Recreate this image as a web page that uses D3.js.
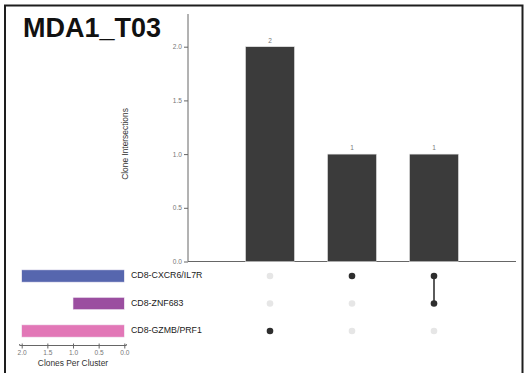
<!DOCTYPE html>
<html>
<head>
<meta charset="utf-8">
<script src="https://cdn.jsdelivr.net/npm/d3@7"></script>
<style>
  html, body { margin: 0; padding: 0; background: #fff; }
  svg { display: block; }
  text { font-family: "Liberation Sans", Arial, Helvetica, sans-serif; }
</style>
</head>
<body>
<svg id="chart" width="527" height="373"></svg>
<script>
// Sample title
const title = "MDA1_T03";

// Clusters (sets), their sizes and colours
const sets = ["CD8-CXCR6/IL7R", "CD8-ZNF683", "CD8-GZMB/PRF1"];
const setSizes = [2, 1, 2];
const setColors = ["#5666ae", "#9b4ea0", "#e277b7"];

// Intersections: member sets and clone counts
const intersections = [
  ["CD8-GZMB/PRF1"],
  ["CD8-CXCR6/IL7R"],
  ["CD8-CXCR6/IL7R", "CD8-ZNF683"]
];
const intersectionCounts = [2, 1, 1];

// Axis ticks
const countTicks = [0, 0.5, 1.0, 1.5, 2.0];
const sizeTicks = [0, 0.5, 1.0, 1.5, 2.0];

const svg = d3.select("#chart");

// Outer frame
svg.append("rect")
  .attr("x", 5).attr("y", 5.5)
  .attr("width", 517.5).attr("height", 380)
  .attr("fill", "none").attr("stroke", "#1e1e1e").attr("stroke-width", 2);

// Title
svg.append("text")
  .attr("x", 23).attr("y", 37)
  .attr("font-family", "Lato, 'Liberation Sans', sans-serif")
  .attr("font-weight", "bold").attr("font-size", 27)
  .attr("fill", "#111")
  .text(title);

// ---- Intersection bar chart ----
const xLeft = 188, xRight = 516;
const yTop = 46.7, yBottom = 261.5;

const x = d3.scalePoint()
  .domain(d3.range(intersections.length))
  .range([xLeft, xRight])
  .padding(1);
const barW = 49;

const y = d3.scaleLinear().domain([0, 2]).range([yBottom, yTop]);

const yAxis = svg.append("g")
  .attr("transform", `translate(${xLeft},0)`)
  .call(d3.axisLeft(y).tickValues(countTicks).tickFormat(d3.format(".1f")).tickSize(4).tickPadding(2));
yAxis.select(".domain").attr("stroke", "#666").attr("d", `M0,14V${yBottom}`);
yAxis.selectAll(".tick line").attr("stroke", "#666");
yAxis.selectAll(".tick text").attr("fill", "#777").attr("font-size", 6.6)
  .attr("font-family", "'Liberation Sans', Arial, sans-serif");

// Baseline under the bars
svg.append("line")
  .attr("x1", xLeft).attr("x2", xRight)
  .attr("y1", yBottom).attr("y2", yBottom)
  .attr("stroke", "#666").attr("stroke-width", 1);

svg.append("text")
  .attr("transform", `translate(125.5,144) rotate(-90)`)
  .attr("text-anchor", "middle")
  .attr("dominant-baseline", "middle")
  .attr("font-size", 8.4).attr("fill", "#333")
  .text("Clone Intersections");

svg.append("g").selectAll("rect")
  .data(intersectionCounts)
  .join("rect")
  .attr("x", (d, i) => x(i) - barW / 2)
  .attr("y", d => y(d))
  .attr("width", barW)
  .attr("height", d => y(0) - y(d))
  .attr("fill", "#3b3b3b")
  .attr("stroke", "#e6e6e6").attr("stroke-width", 0.6);

svg.append("g").selectAll("text")
  .data(intersectionCounts)
  .join("text")
  .attr("x", (d, i) => x(i))
  .attr("y", d => y(d) - 4)
  .attr("text-anchor", "middle")
  .attr("font-size", 6.5).attr("fill", "#777")
  .text(d => d);

// ---- Membership matrix ----
const row = d3.scalePoint()
  .domain(sets)
  .range([276, 331]);

const matrix = svg.append("g");
intersections.forEach((members, i) => {
  const ys = members.map(s => row(s));
  if (ys.length > 1) {
    matrix.append("line")
      .attr("x1", x(i)).attr("x2", x(i))
      .attr("y1", d3.min(ys)).attr("y2", d3.max(ys))
      .attr("stroke", "#333").attr("stroke-width", 1.6);
  }
  sets.forEach(s => {
    const on = members.includes(s);
    matrix.append("circle")
      .attr("cx", x(i)).attr("cy", row(s))
      .attr("r", 3.3)
      .attr("fill", on ? "#2e2e2e" : "#e6e6e6");
  });
});

// ---- Set size bars ----
const sx = d3.scaleLinear().domain([0, 2]).range([124.3, 21.7]);
const setBarH = 12.3;

svg.append("g").selectAll("rect")
  .data(sets)
  .join("rect")
  .attr("x", (d, i) => sx(setSizes[i]))
  .attr("y", d => row(d) - setBarH / 2)
  .attr("width", (d, i) => sx(0) - sx(setSizes[i]))
  .attr("height", setBarH)
  .attr("fill", (d, i) => setColors[i])
  .attr("stroke", "#f2eef6").attr("stroke-width", 0.6);

svg.append("g").selectAll("text")
  .data(sets)
  .join("text")
  .attr("x", 131)
  .attr("y", d => row(d))
  .attr("dominant-baseline", "middle")
  .attr("font-size", 8.8).attr("fill", "#1a1a1a")
  .text(d => d);

const sAxis = svg.append("g")
  .attr("transform", "translate(0,345.5)")
  .call(d3.axisBottom(sx).tickValues(sizeTicks).tickFormat(d3.format(".1f")).tickSize(3).tickPadding(2));
sAxis.select(".domain").attr("stroke", "#666").attr("d", `M${sx(2) - 2},-1.5V0H${sx(0) + 2}V-1.5`);
sAxis.selectAll(".tick line").attr("stroke", "#666").attr("y1", -2);
sAxis.selectAll(".tick text").attr("fill", "#777").attr("font-size", 6.6)
  .attr("font-family", "'Liberation Sans', Arial, sans-serif");

svg.append("text")
  .attr("x", (sx(0) + sx(2)) / 2).attr("y", 366)
  .attr("text-anchor", "middle")
  .attr("font-size", 8.4).attr("fill", "#333")
  .text("Clones Per Cluster");
</script>
</body>
</html>
